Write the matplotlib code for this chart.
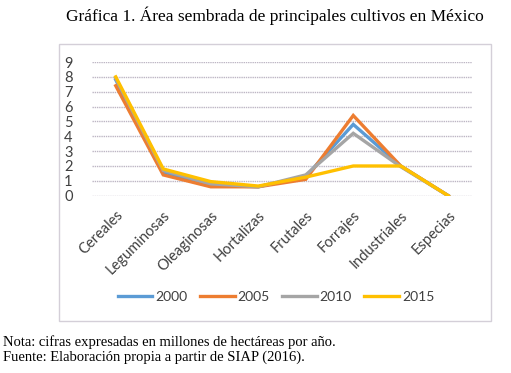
import matplotlib
matplotlib.use("Agg")
import matplotlib.pyplot as plt
from matplotlib.patches import Rectangle

categories = ["Cereales", "Leguminosas", "Oleaginosas", "Hortalizas",
              "Frutales", "Forrajes", "Industriales", "Especias"]
years = ["2000", "2005", "2010", "2015"]
v2000 = [7.8, 1.6, 0.7, 0.6, 1.3, 4.8, 2.0, 0.0]
v2005 = [7.4, 1.4, 0.6, 0.6, 1.1, 5.4, 2.0, 0.0]
v2010 = [7.9, 1.7, 0.8, 0.6, 1.4, 4.2, 1.95, 0.0]
v2015 = [8.0, 1.8, 0.95, 0.65, 1.25, 2.0, 2.0, 0.0]
series = [v2000, v2005, v2010, v2015]
colors = ["#5B9BD5", "#ED7D31", "#A5A5A5", "#FFC000"]
yticks = list(range(0, 10))

W, H = 511, 373
fig = plt.figure(figsize=(W / 100, H / 100), dpi=100)

# chart frame
fig.patches.append(Rectangle((59 / W, 1 - 321 / H), (491 - 59) / W, (321 - 44) / H,
                             transform=fig.transFigure, fill=False,
                             edgecolor="#d4cfd8", lw=1.0))

ax = fig.add_axes([92 / W, 1 - 195.7 / H, (472 - 92) / W, (195.7 - 62) / H])
x = list(range(len(categories)))
for vals, yr, c in zip(series, years, colors):
    ax.plot(x, vals, color=c, lw=2.4, label=yr, solid_joinstyle="miter", zorder=3)

ax.set_xlim(-0.5, len(categories) - 0.5)
ax.set_ylim(0, 9)
ax.set_yticks(yticks)
ax.yaxis.grid(True, color="#bdb6c4", lw=1.0, ls=(0, (1, 0.6)))
ax.set_axisbelow(True)
for s in ax.spines.values():
    s.set_visible(False)
ax.tick_params(axis="both", length=0)
tfont = dict(family=["Lato", "DejaVu Sans"], size=10.5, color="#404040")
ax.set_yticks(yticks)
ax.set_yticklabels([str(t) for t in yticks], **tfont)
ax.tick_params(axis="y", pad=14)
ax.set_xticks(x)
ax.set_xticklabels(categories, rotation=45, ha="right", rotation_mode="anchor", **tfont)
ax.tick_params(axis="x", pad=9)

leg = fig.legend(loc="center", bbox_to_anchor=(276 / W, 1 - 297 / H), ncol=4,
                 frameon=False, handlelength=2.5, handletextpad=0.2, columnspacing=0.9,
                 prop=dict(family=["Lato", "DejaVu Sans"], size=10))
for t in leg.get_texts():
    t.set_color("#404040")

fig.text(275 / W, 1 - 16 / H,
         "Gráfica 1. Área sembrada de principales cultivos en México",
         ha="center", va="center", family=["Liberation Serif", "DejaVu Serif"], size=12.5)
fig.text(3 / W, 1 - 342 / H, "Nota: cifras expresadas en millones de hectáreas por año.",
         ha="left", va="center", family=["Liberation Serif", "DejaVu Serif"], size=10.5)
fig.text(3 / W, 1 - 357 / H, "Fuente: Elaboración propia a partir de SIAP (2016).",
         ha="left", va="center", family=["Liberation Serif", "DejaVu Serif"], size=10.5)

fig.savefig("out.png", dpi=100)
